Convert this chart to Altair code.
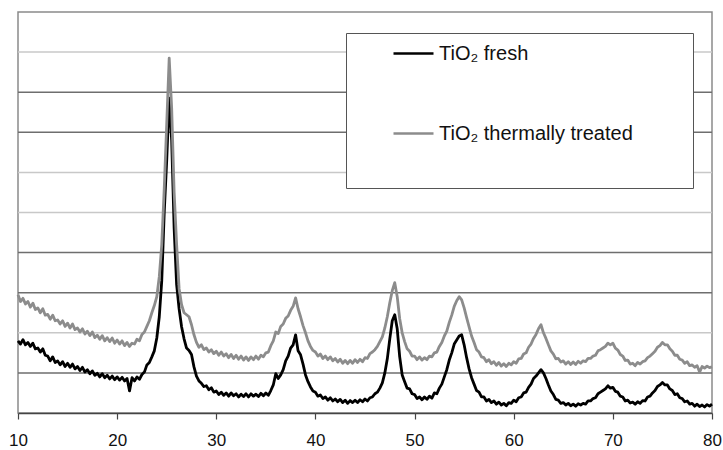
import altair as alt
import pandas as pd

# 2-theta grid of the measurement (degrees)
X_START = 10.0
X_STEP = 0.25

# TiO2 fresh (intensity, arbitrary units), one row per degree: x.00, x.25, x.50, x.75
FRESH = [
    1.80, 1.72, 1.83, 1.70,  # 10
    1.76, 1.66, 1.74, 1.60,  # 11
    1.62, 1.52, 1.60, 1.44,  # 12
    1.42, 1.30, 1.40, 1.26,  # 13
    1.30, 1.20, 1.28, 1.16,  # 14
    1.24, 1.14, 1.22, 1.10,  # 15
    1.16, 1.06, 1.14, 1.02,  # 16
    1.08, 0.98, 1.05, 0.94,  # 17
    0.99, 0.90, 0.98, 0.88,  # 18
    0.94, 0.85, 0.92, 0.83,  # 19
    0.90, 0.82, 0.89, 0.80,  # 20
    0.86, 0.55, 0.88, 0.80,  # 21
    0.90, 0.84, 0.96, 1.02,  # 22
    1.20, 1.26, 1.40, 1.55,  # 23
    1.87, 2.40, 3.30, 5.00,  # 24
    6.30, 7.85, 6.80, 4.60,  # 25
    3.20, 2.60, 2.15, 1.85,  # 26
    1.62, 1.56, 1.46, 1.15,  # 27
    0.92, 0.80, 0.74, 0.66,  # 28
    0.68, 0.58, 0.63, 0.52,  # 29
    0.55, 0.46, 0.52, 0.44,  # 30
    0.50, 0.42, 0.50, 0.43,  # 31
    0.48, 0.40, 0.47, 0.41,  # 32
    0.48, 0.40, 0.48, 0.42,  # 33
    0.47, 0.41, 0.49, 0.43,  # 34
    0.50, 0.44, 0.56, 0.70,  # 35
    0.98, 0.86, 0.95, 1.08,  # 36
    1.30, 1.42, 1.62, 1.70,  # 37
    1.95, 1.55, 1.45, 1.22,  # 38
    0.95, 0.78, 0.65, 0.55,  # 39
    0.52, 0.42, 0.45, 0.36,  # 40
    0.40, 0.32, 0.38, 0.30,  # 41
    0.35, 0.28, 0.34, 0.26,  # 42
    0.32, 0.24, 0.31, 0.26,  # 43
    0.32, 0.26, 0.33, 0.28,  # 44
    0.35, 0.30, 0.38, 0.40,  # 45
    0.48, 0.52, 0.62, 0.75,  # 46
    1.00, 1.35, 1.85, 2.30,  # 47
    2.45, 2.10, 1.40, 0.95,  # 48
    0.78, 0.62, 0.60, 0.48,  # 49
    0.46, 0.36, 0.40, 0.33,  # 50
    0.40, 0.34, 0.42, 0.37,  # 51
    0.50, 0.48, 0.62, 0.72,  # 52
    0.90, 1.08, 1.32, 1.50,  # 53
    1.72, 1.82, 1.92, 1.95,  # 54
    1.70, 1.38, 1.10, 0.88,  # 55
    0.72, 0.56, 0.52, 0.40,  # 56
    0.40, 0.30, 0.34, 0.26,  # 57
    0.30, 0.22, 0.27, 0.20,  # 58
    0.24, 0.18, 0.26, 0.24,  # 59
    0.32, 0.28, 0.38, 0.40,  # 60
    0.50, 0.52, 0.64, 0.72,  # 61
    0.86, 0.92, 1.00, 1.08,  # 62
    1.00, 0.86, 0.70, 0.55,  # 63
    0.46, 0.34, 0.32, 0.24,  # 64
    0.26, 0.20, 0.24, 0.18,  # 65
    0.22, 0.17, 0.23, 0.20,  # 66
    0.24, 0.22, 0.30, 0.30,  # 67
    0.36, 0.38, 0.48, 0.52,  # 68
    0.56, 0.60, 0.68, 0.62,  # 69
    0.64, 0.54, 0.52, 0.42,  # 70
    0.40, 0.30, 0.32, 0.25,  # 71
    0.27, 0.22, 0.28, 0.24,  # 72
    0.31, 0.30, 0.40, 0.42,  # 73
    0.50, 0.56, 0.66, 0.70,  # 74
    0.76, 0.70, 0.70, 0.60,  # 75
    0.56, 0.46, 0.48, 0.38,  # 76
    0.36, 0.28, 0.30, 0.22,  # 77
    0.24, 0.17, 0.22, 0.16,  # 78
    0.20, 0.15, 0.21, 0.17,  # 79
    0.22,                    # 80
]

# TiO2 thermally treated
TREATED = [
    2.95, 2.78, 2.86, 2.72,  # 10
    2.78, 2.64, 2.74, 2.58,  # 11
    2.62, 2.50, 2.60, 2.44,  # 12
    2.46, 2.34, 2.44, 2.30,  # 13
    2.32, 2.22, 2.30, 2.16,  # 14
    2.24, 2.12, 2.22, 2.08,  # 15
    2.12, 2.02, 2.10, 1.97,  # 16
    2.04, 1.93, 2.02, 1.88,  # 17
    1.94, 1.84, 1.93, 1.80,  # 18
    1.88, 1.78, 1.87, 1.74,  # 19
    1.82, 1.72, 1.80, 1.68,  # 20
    1.76, 1.66, 1.74, 1.72,  # 21
    1.84, 1.80, 1.96, 2.02,  # 22
    2.16, 2.30, 2.50, 2.68,  # 23
    2.90, 3.40, 4.20, 5.60,  # 24
    7.20, 8.85, 7.60, 5.50,  # 25
    4.20, 3.10, 2.70, 2.50,  # 26
    2.45, 2.40, 2.20, 1.95,  # 27
    1.76, 1.64, 1.70, 1.58,  # 28
    1.62, 1.52, 1.58, 1.48,  # 29
    1.54, 1.44, 1.52, 1.42,  # 30
    1.48, 1.38, 1.46, 1.36,  # 31
    1.44, 1.34, 1.42, 1.32,  # 32
    1.40, 1.31, 1.40, 1.33,  # 33
    1.42, 1.34, 1.44, 1.40,  # 34
    1.50, 1.52, 1.68, 1.80,  # 35
    2.02, 1.98, 2.16, 2.22,  # 36
    2.36, 2.42, 2.56, 2.66,  # 37
    2.87, 2.60, 2.40, 2.18,  # 38
    2.00, 1.80, 1.66, 1.56,  # 39
    1.52, 1.42, 1.47, 1.36,  # 40
    1.42, 1.33, 1.40, 1.30,  # 41
    1.36, 1.27, 1.34, 1.24,  # 42
    1.31, 1.23, 1.31, 1.24,  # 43
    1.33, 1.26, 1.34, 1.28,  # 44
    1.38, 1.36, 1.48, 1.52,  # 45
    1.58, 1.66, 1.78, 1.90,  # 46
    2.12, 2.40, 2.75, 3.05,  # 47
    3.25, 2.90, 2.35, 2.00,  # 48
    1.78, 1.60, 1.54, 1.42,  # 49
    1.42, 1.33, 1.40, 1.32,  # 50
    1.38, 1.33, 1.42, 1.40,  # 51
    1.50, 1.52, 1.66, 1.76,  # 52
    1.92, 2.04, 2.26, 2.44,  # 53
    2.66, 2.80, 2.90, 2.82,  # 54
    2.62, 2.38, 2.15, 1.92,  # 55
    1.76, 1.58, 1.52, 1.40,  # 56
    1.38, 1.28, 1.33, 1.23,  # 57
    1.28, 1.19, 1.26, 1.17,  # 58
    1.23, 1.16, 1.24, 1.20,  # 59
    1.28, 1.24, 1.35, 1.36,  # 60
    1.47, 1.50, 1.64, 1.72,  # 61
    1.86, 1.96, 2.10, 2.20,  # 62
    2.00, 1.86, 1.70, 1.55,  # 63
    1.47, 1.35, 1.36, 1.27,  # 64
    1.30, 1.22, 1.28, 1.21,  # 65
    1.27, 1.21, 1.29, 1.24,  # 66
    1.30, 1.28, 1.36, 1.36,  # 67
    1.42, 1.44, 1.55, 1.58,  # 68
    1.62, 1.66, 1.74, 1.70,  # 69
    1.74, 1.62, 1.57, 1.46,  # 70
    1.42, 1.31, 1.32, 1.22,  # 71
    1.24, 1.18, 1.26, 1.22,  # 72
    1.28, 1.30, 1.38, 1.42,  # 73
    1.48, 1.54, 1.64, 1.68,  # 74
    1.76, 1.70, 1.70, 1.60,  # 75
    1.54, 1.44, 1.44, 1.34,  # 76
    1.32, 1.24, 1.28, 1.18,  # 77
    1.20, 1.14, 1.18, 1.02,  # 78
    1.16, 1.12, 1.17, 1.13,  # 79
    1.15,                    # 80
]

SERIES = ["TiO\u2082 fresh", "TiO\u2082 thermally treated"]
SERIES_COLORS = ["#000000", "#8c8c8c"]
X_TICKS = [10, 20, 30, 40, 50, 60, 70, 80]
GRID_Y = [1, 2, 3, 4, 5, 6, 7, 8, 9]
GRID_COLORS = ["#6e6e6e", "#c8c8c8", "#6e6e6e", "#6e6e6e", "#c8c8c8",
               "#c8c8c8", "#6e6e6e", "#6e6e6e", "#c8c8c8"]

rows = []
for name, vals in zip(SERIES, [FRESH, TREATED]):
    for i, v in enumerate(vals):
        rows.append({"x": X_START + i * X_STEP, "y": v, "series": name})
df = pd.DataFrame(rows)
grid_df = pd.DataFrame({"y": GRID_Y, "c": GRID_COLORS})

xscale = alt.Scale(domain=[10, 80], nice=False, zero=False)
yscale = alt.Scale(domain=[0, 10], nice=False, zero=True)

grid = alt.Chart(grid_df).mark_rule(strokeWidth=1.5).encode(
    y=alt.Y("y:Q", scale=yscale, axis=None),
    stroke=alt.Stroke("c:N", scale=None, legend=None),
)

lines = alt.Chart(df).mark_line(strokeWidth=2.8, strokeJoin="round").encode(
    x=alt.X("x:Q", scale=xscale,
            axis=alt.Axis(values=X_TICKS, title=None, grid=False, tickSize=6,
                          tickColor="#444444", domainColor="#444444",
                          domainWidth=1.5, tickWidth=1.2,
                          labelFont="Liberation Sans", labelFontSize=17,
                          labelColor="#111111", labelPadding=13,
                          labelFlush=False)),
    y=alt.Y("y:Q", scale=yscale,
            axis=alt.Axis(labels=False, ticks=False, grid=False, title=None,
                          domainColor="#8a8a8a", domainWidth=1.5)),
    color=alt.Color("series:N",
                    scale=alt.Scale(domain=SERIES, range=SERIES_COLORS),
                    legend=alt.Legend(
                        title=" ", titleOrient="right", titleAnchor="start",
                        titleBaseline="top", titleFontSize=138,
                        titlePadding=51, titleLimit=1000,
                        orient="none", legendX=328, legendY=21,
                        direction="vertical", padding=9,
                        symbolType="M-2,0H2", symbolSize=400,
                        symbolStrokeWidth=2.5, symbolOffset=47,
                        labelOffset=14, rowPadding=58,
                        labelFont="Liberation Sans", labelFontSize=20,
                        labelColor="#111111", labelLimit=400,
                        strokeColor="#555555", fillColor="#ffffff")),
)

chart = alt.layer(grid, lines).properties(
    width=694, height=401,
    autosize=alt.AutoSizeParams(type="none"),
    padding={"left": 18, "top": 12, "right": 11, "bottom": 37},
    background="#ffffff",
).configure_view(stroke="#8a8a8a", strokeWidth=1.5)

chart.save("out.html", embed_options={"renderer": "svg", "actions": False})
